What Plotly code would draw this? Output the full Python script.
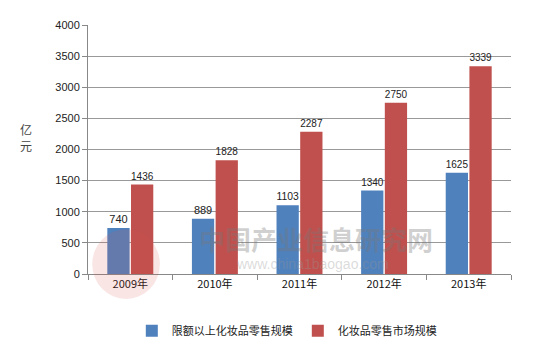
import plotly.graph_objects as go

years = ["2009年", "2010年", "2011年", "2012年", "2013年"]
above_limit = [740, 889, 1103, 1340, 1625]
market = [1436, 1828, 2287, 2750, 3339]
series_names = ["限额以上化妆品零售规模", "化妆品零售市场规模"]
y_ticks = [0, 500, 1000, 1500, 2000, 2500, 3000, 3500, 4000]

font_cjk = "Noto Sans CJK SC, Liberation Sans, sans-serif"

fig = go.Figure()
fig.add_trace(go.Bar(
    x=years, y=above_limit, name=series_names[0],
    marker=dict(color="#4F81BD", line=dict(width=0)),
    text=[str(v) for v in above_limit], textposition="outside",
    textfont=dict(size=11, color="#222", family="Liberation Sans"),
    cliponaxis=False,
))
fig.add_trace(go.Bar(
    x=years, y=market, name=series_names[1],
    marker=dict(color="#C0504D", line=dict(width=0)),
    text=[str(v) for v in market], textposition="outside",
    textfont=dict(size=11, color="#222", family="Liberation Sans"),
    cliponaxis=False,
))

# watermark
fig.add_shape(type="circle", xref="paper", yref="paper",
              x0=0.01, x1=0.17, y0=-0.10, y1=0.18,
              line=dict(width=0), fillcolor="rgba(220,80,80,0.15)", layer="above")
fig.add_annotation(x=0.54, y=0.143, xref="paper", yref="paper",
                   text="<b>中国产业信息研究网</b>", showarrow=False, yanchor="middle",
                   font=dict(size=26, color="rgba(120,120,120,0.35)", family=font_cjk))
fig.add_annotation(x=0.53, y=0.0, xref="paper", yref="paper",
                   text="www.china1baogao.com", showarrow=False, yanchor="bottom",
                   font=dict(size=14, color="rgba(150,150,150,0.35)", family="Liberation Sans"))

# y-axis title (stacked characters)
fig.add_annotation(x=(26 - 88) / 423, y=(274 - 137) / 249,
                   xref="x domain", yref="y domain",
                   xanchor="center", yanchor="middle",
                   text="亿<br>元", showarrow=False,
                   font=dict(size=12, color="#444", family=font_cjk))

fig.update_layout(
    width=550, height=354,
    margin=dict(l=88, r=39, t=25, b=80, autoexpand=False),
    paper_bgcolor="white", plot_bgcolor="white",
    barmode="group", bargap=0.44, bargroupgap=0.06,
    showlegend=True,
    legend=dict(orientation="h", x=0.47, xanchor="center", y=-0.17, yanchor="top",
                font=dict(size=11, color="#222", family=font_cjk),
                itemwidth=30, tracegroupgap=0),
    font=dict(family="Liberation Sans"),
)
fig.update_xaxes(
    showline=True, linecolor="#888", linewidth=1,
    ticks="outside", ticklen=5, tickcolor="#888", tickson="boundaries",
    tickfont=dict(size=11, color="#111", family=font_cjk),
    showgrid=False, automargin=False,
)
fig.update_yaxes(
    range=[0, 4000], tickvals=y_ticks,
    showline=True, linecolor="#888", linewidth=1,
    ticks="outside", ticklen=5, tickcolor="#888",
    showgrid=True, gridcolor="#999", gridwidth=1,
    tickfont=dict(size=11, color="#222", family="Liberation Sans"),
    zeroline=False, automargin=False,
)

fig.write_html("out.html")
